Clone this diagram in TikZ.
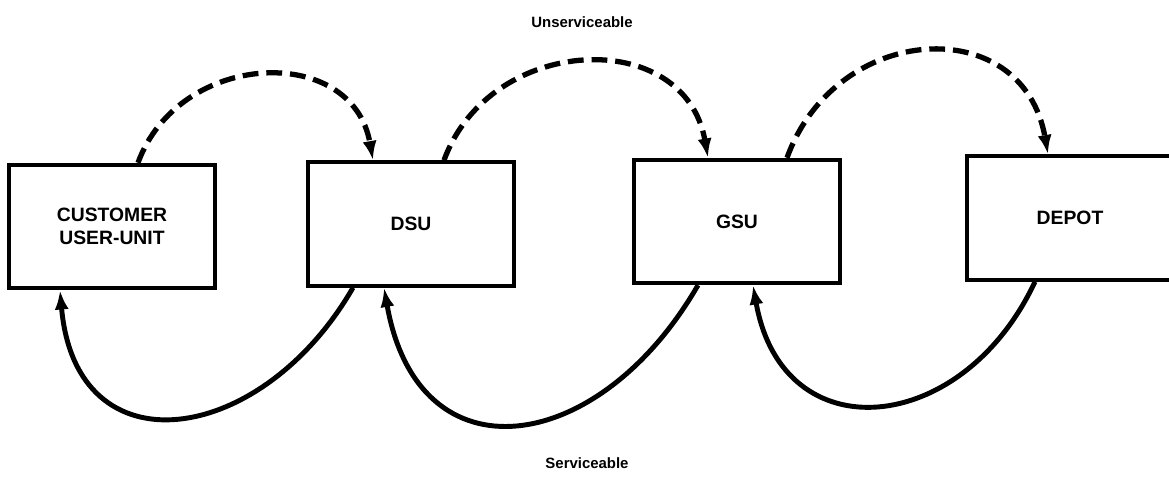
\documentclass[tikz,border=0pt]{standalone}
\usepackage{fontspec}
\setmainfont{Liberation Sans}
\usepackage{tikz}
\usetikzlibrary{arrows.meta, positioning}

\begin{document}
\begin{tikzpicture}[boxstyle/.style={
	draw,rectangle,line width=2.2pt,minimum width=4.12cm,minimum height=2.47cm,align=center,font=\bfseries\fontsize{11}{13}\selectfont
}, unservline/.style={line width=3pt,dash pattern=on 9pt off 4.5pt,-{Latex[length=11pt,width=8pt]}},
servline/.style={line width=2.8pt,-{Latex[length=11pt,width=8pt]}},
flowlabel/.style={font=\bfseries\fontsize{8.5}{10}\selectfont}]
	\useasboundingbox (0,0) rectangle (23.38,9.56);

	\node[boxstyle] at (2.24,5.03) (cust) {CUSTOMER\\USER-UNIT};
	\node[boxstyle] at (8.22,5.08) (dsu) {DSU};
	\node[boxstyle] at (14.74,5.13) (gsu) {GSU};
	\node[boxstyle] at (21.40,5.20) (depot) {DEPOT};

	\node[flowlabel] at (11.64,9.12) (unserv) {Unserviceable};
	\node[flowlabel] at (11.74,0.30) (serv) {Serviceable};

	% unserviceable items go up the chain
	\draw[unservline] ([xshift=0.52cm]cust.north) to[out=70,in=100,looseness=1.3] ([xshift=-0.76cm]dsu.north);
	\draw[unservline] ([xshift=0.66cm]dsu.north) to[out=70,in=100,looseness=1.3] ([xshift=-0.58cm]gsu.north);
	\draw[unservline] ([xshift=1.0cm]gsu.north) to[out=70,in=100,looseness=1.42] ([xshift=-0.44cm]depot.north);

	% serviceable items come back down
	\draw[servline] ([xshift=-1.16cm]dsu.south) to[out=240,in=-85,looseness=1.6] ([xshift=-1.04cm]cust.south);
	\draw[servline] ([xshift=-0.78cm]gsu.south) to[out=240,in=-80,looseness=1.61] ([xshift=-0.54cm]dsu.south);
	\draw[servline] ([xshift=-0.7cm]depot.south) to[out=245,in=-80,looseness=1.55] ([xshift=0.32cm]gsu.south);
\end{tikzpicture}
\end{document}
